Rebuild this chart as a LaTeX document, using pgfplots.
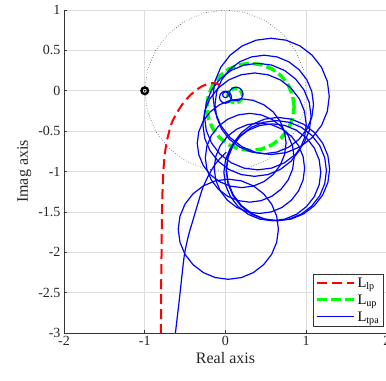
\documentclass[border=0pt]{standalone}
\usepackage{fontspec}
\setmainfont{Liberation Serif}
\usepackage{pgfplots}
\pgfplotsset{compat=1.18}
\begin{document}
\begin{tikzpicture}
\begin{axis}[
 width=323pt, height=323pt, scale only axis,
 xmin=-2, xmax=2, ymin=-3, ymax=1,
 xtick={-2,-1,0,1,2},
 ytick={-3,-2.5,-2,-1.5,-1,-0.5,0,0.5,1},
 grid=major, major grid style={black!13, line width=0.6pt},
 axis lines*=left,
 tick align=inside, major tick length=3pt,
 tick style={black!80, line width=0.5pt},
 axis line style={black!80, line width=0.6pt},
 every tick label/.append style={font=\fontsize{14}{16}\selectfont, text=black!85},
 /pgf/number format/assume math mode=true,
 xlabel={Real axis}, ylabel={Imag axis},
 label style={font=\fontsize{16}{18}\selectfont, text=black!85},
 legend style={at={(0.988,0.02)}, anchor=south east, font=\fontsize{14.5}{16}\selectfont,
   draw=black!80, line width=0.6pt, inner sep=1.5pt, row sep=2pt},
 legend cell align=left,
 legend image code/.code={\draw[#1] (0cm,0.5pt) -- (1.3cm,0.5pt);},
 tpa/.style={color=blue, line width=1.2pt, line join=round, forget plot},
]
\addlegendimage{draw=red, line width=2pt, dash pattern=on 10pt off 5pt}
\addlegendentry{L\textsubscript{lp}}
\addlegendimage{draw=green, line width=3.5pt, dash pattern=on 10pt off 4pt}
\addlegendentry{L\textsubscript{up}}
\addlegendimage{draw=blue, line width=1.5pt, solid}
\addlegendentry{L\textsubscript{tpa}}

% unit circle
\addplot[color=black!70, dotted, line width=0.6pt, forget plot] coordinates {
(1,0) (0.966,0.259) (0.866,0.5) (0.707,0.707) (0.5,0.866) (0.259,0.966) (0,1) (-0.259,0.966)
(-0.5,0.866) (-0.707,0.707) (-0.866,0.5) (-0.966,0.259) (-1,0) (-0.966,-0.259) (-0.866,-0.5)
(-0.707,-0.707) (-0.5,-0.866) (-0.259,-0.966) (0,-1) (0.259,-0.966) (0.5,-0.866) (0.707,-0.707)
(0.866,-0.5) (0.966,-0.259) (1,0)};

% L_up
\addplot[color=green, line width=3.5pt, dash pattern=on 10pt off 4pt, line join=round, forget plot] coordinates {
(0.85,-0.20) (0.832,-0.06) (0.778,0.07) (0.692,0.182) (0.58,0.268) (0.45,0.322) (0.31,0.34)
(0.17,0.322) (0.04,0.268) (-0.072,0.182) (-0.158,0.07) (-0.212,-0.06) (-0.23,-0.20) (-0.212,-0.34)
(-0.158,-0.47) (-0.072,-0.582) (0.04,-0.668) (0.17,-0.722) (0.31,-0.74) (0.45,-0.722) (0.58,-0.668)
(0.692,-0.582) (0.778,-0.47) (0.832,-0.34) (0.85,-0.20)};
\addplot[color=green, line width=3.5pt, dash pattern=on 6pt off 3pt, line join=round, forget plot] coordinates {
(0.21,-0.06) (0.198,-0.015) (0.165,0.018) (0.12,0.03) (0.075,0.018) (0.042,-0.015) (0.03,-0.06)
(0.042,-0.105) (0.075,-0.138) (0.12,-0.15) (0.165,-0.138) (0.198,-0.105) (0.21,-0.06)};

% L_tpa
\addplot[tpa, smooth] coordinates {
(-0.64,-3.2) (-0.62,-3.0) (-0.585,-2.7) (-0.56,-2.48) (-0.51,-2.04) (-0.455,-1.78)
(-0.405,-1.61) (-0.34,-1.39) (-0.28,-1.20) (-0.20,-1.03) (-0.12,-0.9) (-0.03,-0.80) (0.01,-0.76)};
\addplot[tpa] coordinates {
(0.655,-1.715) (0.634,-1.554) (0.572,-1.405) (0.473,-1.277) (0.345,-1.178) (0.196,-1.116) (0.035,-1.095)
(-0.126,-1.116) (-0.275,-1.178) (-0.403,-1.277) (-0.502,-1.405) (-0.564,-1.554) (-0.585,-1.715)
(-0.564,-1.876) (-0.502,-2.025) (-0.403,-2.153) (-0.275,-2.252) (-0.126,-2.314) (0.035,-2.335)
(0.196,-2.314) (0.345,-2.252) (0.473,-2.153) (0.572,-2.025) (0.634,-1.876) (0.655,-1.715)};
\addplot[tpa] coordinates {
(1.29,-0.97) (1.268,-0.804) (1.204,-0.65) (1.102,-0.518) (0.97,-0.416) (0.816,-0.352) (0.65,-0.33)
(0.484,-0.352) (0.33,-0.416) (0.198,-0.518) (0.096,-0.65) (0.032,-0.804) (0.01,-0.97) (0.032,-1.136)
(0.096,-1.29) (0.198,-1.422) (0.33,-1.524) (0.484,-1.588) (0.65,-1.61) (0.816,-1.588) (0.97,-1.524)
(1.102,-1.422) (1.204,-1.29) (1.268,-1.136) (1.29,-0.97)};
\addplot[tpa] coordinates {
(1.25,-0.99) (1.229,-0.829) (1.167,-0.68) (1.068,-0.552) (0.94,-0.453) (0.791,-0.391) (0.63,-0.37)
(0.469,-0.391) (0.32,-0.453) (0.192,-0.552) (0.093,-0.68) (0.031,-0.829) (0.01,-0.99) (0.031,-1.151)
(0.093,-1.30) (0.192,-1.428) (0.32,-1.527) (0.469,-1.589) (0.63,-1.61) (0.791,-1.589) (0.94,-1.527)
(1.068,-1.428) (1.167,-1.30) (1.229,-1.151) (1.25,-0.99)};
\addplot[tpa] coordinates {
(1.18,-1.01) (1.16,-0.855) (1.10,-0.71) (1.004,-0.586) (0.88,-0.49) (0.735,-0.43) (0.58,-0.41)
(0.425,-0.43) (0.28,-0.49) (0.156,-0.586) (0.06,-0.71) (0.0,-0.855) (-0.02,-1.01) (0.0,-1.165)
(0.06,-1.31) (0.156,-1.434) (0.28,-1.53) (0.425,-1.59) (0.58,-1.61) (0.735,-1.59) (0.88,-1.53)
(1.004,-1.434) (1.10,-1.31) (1.16,-1.165) (1.18,-1.01)};
\addplot[tpa] coordinates {
(0.98,-0.96) (0.961,-0.815) (0.905,-0.68) (0.816,-0.564) (0.70,-0.475) (0.565,-0.419) (0.42,-0.40)
(0.275,-0.419) (0.14,-0.475) (0.024,-0.564) (-0.065,-0.68) (-0.121,-0.815) (-0.14,-0.96) (-0.121,-1.105)
(-0.065,-1.24) (0.024,-1.356) (0.14,-1.445) (0.275,-1.501) (0.42,-1.52) (0.565,-1.501) (0.70,-1.445)
(0.816,-1.356) (0.905,-1.24) (0.961,-1.105) (0.98,-0.96)};
\addplot[tpa] coordinates {
(0.85,-0.83) (0.831,-0.688) (0.776,-0.555) (0.689,-0.441) (0.575,-0.354) (0.442,-0.299) (0.30,-0.28)
(0.158,-0.299) (0.025,-0.354) (-0.089,-0.441) (-0.176,-0.555) (-0.231,-0.688) (-0.25,-0.83) (-0.231,-0.972)
(-0.176,-1.105) (-0.089,-1.219) (0.025,-1.306) (0.158,-1.361) (0.30,-1.38) (0.442,-1.361) (0.575,-1.306)
(0.689,-1.219) (0.776,-1.105) (0.831,-0.972) (0.85,-0.83)};
\addplot[tpa] coordinates {
(0.75,-0.65) (0.731,-0.508) (0.676,-0.375) (0.589,-0.261) (0.475,-0.174) (0.342,-0.119) (0.20,-0.10)
(0.058,-0.119) (-0.075,-0.174) (-0.189,-0.261) (-0.276,-0.375) (-0.331,-0.508) (-0.35,-0.65) (-0.331,-0.792)
(-0.276,-0.925) (-0.189,-1.039) (-0.075,-1.126) (0.058,-1.181) (0.20,-1.20) (0.342,-1.181) (0.475,-1.126)
(0.589,-1.039) (0.676,-0.925) (0.731,-0.792) (0.75,-0.65)};
\addplot[tpa] coordinates {
(1.285,-0.07) (1.261,0.116) (1.189,0.29) (1.074,0.439) (0.925,0.554) (0.751,0.626) (0.565,0.65)
(0.379,0.626) (0.205,0.554) (0.056,0.439) (-0.059,0.29) (-0.131,0.116) (-0.155,-0.07) (-0.131,-0.256)
(-0.059,-0.43) (0.056,-0.579) (0.205,-0.694) (0.379,-0.766) (0.565,-0.79) (0.751,-0.766) (0.925,-0.694)
(1.074,-0.579) (1.189,-0.43) (1.261,-0.256) (1.285,-0.07)};
\addplot[tpa] coordinates {
(1.09,-0.17) (1.069,-0.012) (1.008,0.135) (0.911,0.261) (0.785,0.358) (0.638,0.419) (0.48,0.44)
(0.322,0.419) (0.175,0.358) (0.049,0.261) (-0.048,0.135) (-0.109,-0.012) (-0.13,-0.17) (-0.109,-0.328)
(-0.048,-0.475) (0.049,-0.601) (0.175,-0.698) (0.322,-0.759) (0.48,-0.78) (0.638,-0.759) (0.785,-0.698)
(0.911,-0.601) (1.008,-0.475) (1.069,-0.328) (1.09,-0.17)};
\addplot[tpa] coordinates {
(1.06,-0.32) (1.038,-0.149) (0.972,0.01) (0.867,0.147) (0.73,0.252) (0.571,0.318) (0.40,0.34)
(0.229,0.318) (0.07,0.252) (-0.067,0.147) (-0.172,0.01) (-0.238,-0.149) (-0.26,-0.32) (-0.238,-0.491)
(-0.172,-0.65) (-0.067,-0.787) (0.07,-0.892) (0.229,-0.958) (0.40,-0.98) (0.571,-0.958) (0.73,-0.892)
(0.867,-0.787) (0.972,-0.65) (1.038,-0.491) (1.06,-0.32)};
\addplot[tpa] coordinates {
(1.0,-0.42) (0.978,-0.254) (0.914,-0.10) (0.812,0.032) (0.68,0.134) (0.526,0.198) (0.36,0.22)
(0.194,0.198) (0.04,0.134) (-0.092,0.032) (-0.194,-0.10) (-0.258,-0.254) (-0.28,-0.42) (-0.258,-0.586)
(-0.194,-0.74) (-0.092,-0.872) (0.04,-0.974) (0.194,-1.038) (0.36,-1.06) (0.526,-1.038) (0.68,-0.974)
(0.812,-0.872) (0.914,-0.74) (0.978,-0.586) (1.0,-0.42)};
\addplot[tpa] coordinates {
(0.215,-0.04) (0.204,0.0025) (0.1725,0.034) (0.13,0.045) (0.0875,0.034) (0.056,0.0025) (0.045,-0.04)
(0.056,-0.0825) (0.0875,-0.114) (0.13,-0.125) (0.1725,-0.114) (0.204,-0.0825) (0.215,-0.04)};
\addplot[tpa] coordinates {
(0.075,-0.08) (0.065,-0.0425) (0.0375,-0.015) (0,-0.005) (-0.0375,-0.015) (-0.065,-0.0425) (-0.075,-0.08)
(-0.065,-0.1175) (-0.0375,-0.145) (0,-0.155) (0.0375,-0.145) (0.065,-0.1175) (0.075,-0.08)};
\addplot[tpa] coordinates {
(0.035,-0.05) (0.03,-0.0325) (0.0175,-0.02) (0,-0.015) (-0.0175,-0.02) (-0.03,-0.0325) (-0.035,-0.05)
(-0.03,-0.0675) (-0.0175,-0.08) (0,-0.085) (0.0175,-0.08) (0.03,-0.0675) (0.035,-0.05)};

% L_lp
\addplot[color=red, line width=2pt, dash pattern=on 10pt off 5pt, smooth, forget plot] coordinates {
(-0.80,-3.2) (-0.797,-2.5) (-0.792,-2.0) (-0.786,-1.5) (-0.775,-1.1) (-0.755,-0.82) (-0.725,-0.62)
(-0.67,-0.41) (-0.60,-0.27) (-0.52,-0.15) (-0.42,-0.04) (-0.30,0.05) (-0.18,0.095) (-0.10,0.085)
(-0.06,0.05) (-0.04,0.01)};

% critical point
\addplot[color=black, only marks, mark=o, mark size=3.3pt, line width=2.4pt, forget plot] coordinates {(-1,0)};
\addplot[color=black, only marks, mark=*, mark size=0.6pt, forget plot] coordinates {(-1,0)};
\end{axis}
\pgfresetboundingbox
\path[use as bounding box] ([xshift=-64pt,yshift=-48pt]current axis.south west) rectangle ([xshift=-1pt,yshift=10pt]current axis.north east);
\end{tikzpicture}
\end{document}
